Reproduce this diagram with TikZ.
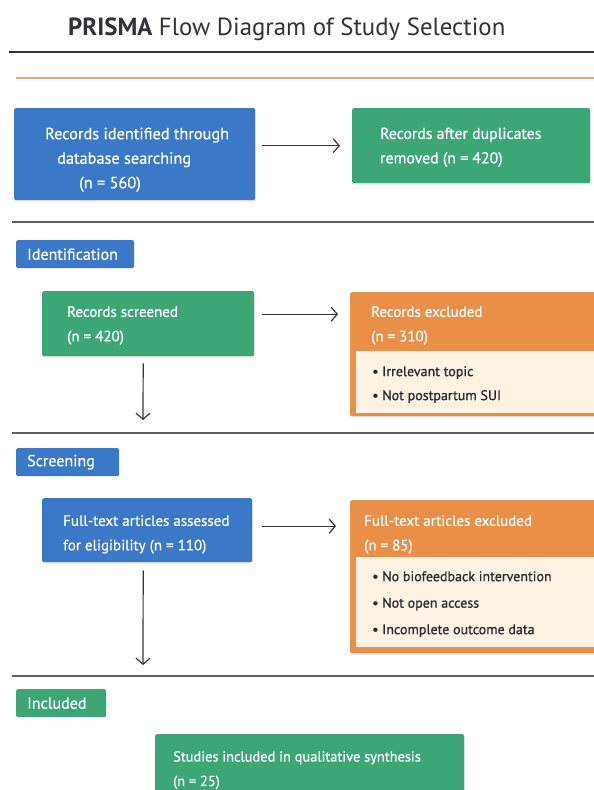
\documentclass[tikz,border=0pt]{standalone}
\usepackage{fontspec}
\setmainfont{PT Sans}
\newfontfamily\medfont{PT Sans}[FakeBold=0.6]
\usetikzlibrary{arrows.meta,shadows}
\definecolor{pblue}{HTML}{3B78C8}
\definecolor{pgreen}{HTML}{3DA676}
\definecolor{porange}{HTML}{E98F48}
\definecolor{pcream}{HTML}{FDF2E4}
\definecolor{pdark}{HTML}{2E323B}
\definecolor{pgray}{HTML}{5C5F66}
\definecolor{porline}{HTML}{EFA474}
\definecolor{parrow}{HTML}{33363D}
\definecolor{pbullet}{HTML}{26282C}
\begin{document}
\begin{tikzpicture}[x=1pt,y=-1pt,
  boxnode/.style={rectangle, rounded corners=1.5pt, inner sep=0pt, anchor=north west,
    drop shadow={opacity=0.15, shadow xshift=0.8pt, shadow yshift=-1.5pt}},
  innerbox/.style={rectangle, inner sep=0pt, anchor=north west, fill=pcream},
  boxtxt/.style={text=white, font=\medfont\fontsize{15}{24.5}\selectfont, inner sep=0pt, align=left, anchor=north west},
  bullettxt/.style={text=pbullet, font=\medfont\fontsize{14}{24}\selectfont, inner sep=0pt, align=left, anchor=north west},
  lab/.style={rectangle, rounded corners=1.5pt, anchor=north west, minimum height=28pt, inner xsep=11pt, inner ysep=0pt,
    text=white, font=\medfont\fontsize{16}{18}\selectfont, align=left},
  arr/.style={parrow, line width=1.2pt, -{Straight Barb[length=6pt,width=14pt]}},
  sepline/.style={pgray, line width=1.2pt}
]
\useasboundingbox (0,0) rectangle (594,790);
\fill[white] (0,0) rectangle (594,790);

% title and rules
\node[anchor=base west, text=pdark, font=\fontsize{24.8}{28}\selectfont, inner sep=0pt] (title) at (68,35)
  {\textbf{PRISMA} Flow Diagram of Study Selection};
\draw[pdark, line width=1.5pt] (9,52) -- (594,52);
\draw[porline, line width=1.3pt] (16,78) -- (594,78);

% row 1
\node[boxnode, fill=pblue, minimum width=241pt, minimum height=92pt] (b1) at (14,108) {};
\node[boxtxt, font=\medfont\fontsize{16.3}{24.5}\selectfont] (t1) at (45,127.5)
  {Records identified through\\\hspace*{12pt}database searching\\\hspace*{34pt}(n = 560)};
\node[boxnode, fill=pgreen, minimum width=238pt, minimum height=75pt] (b2) at (352,108) {};
\node[boxtxt, font=\medfont\fontsize{15.8}{24.5}\selectfont] (t2) at (380,127.5) {Records after duplicates\\removed (n = 420)};
\draw[arr] ([xshift=7pt]b1.east |- b2.west) -- ([xshift=-12pt]b2.west);

\draw[sepline] (12,222) -- (594,222);
\node[lab, fill=pblue, text width=96pt] (l1) at (16,240) {Identification};

% row 2
\node[boxnode, fill=pgreen, minimum width=212pt, minimum height=65pt] (rs) at (42,291) {};
\node[boxtxt] (rst) at (67,306) {Records screened\\(n = 420)};
\node[boxnode, fill=porange, minimum width=250pt, minimum height=124pt] (re) at (350,292) {};
\node[innerbox, minimum width=244pt, minimum height=62pt] (rei) at (356,351) {};
\node[boxtxt] (ret) at (371,306) {Records excluded\\(n = 310)};
\node[bullettxt] (reb) at (372,366) {\textbullet\ Irrelevant topic\\\textbullet\ Not postpartum SUI};
\draw[arr] ([xshift=8pt,yshift=9.5pt]rs.east) -- ([xshift=-12pt,yshift=9.5pt]rs.east -| re.west);
\coordinate (d1) at (143,420);
\draw[arr] ([xshift=-5pt,yshift=-7pt]rs.south) -- (d1);

\draw[sepline] (12,433) -- (594,433);
\node[lab, fill=pblue, text width=81pt] (l2) at (16,448) {Screening};

% row 3
\node[boxnode, fill=pblue, minimum width=210pt, minimum height=64pt] (ft) at (42,498) {};
\node[boxtxt] (ftt) at (63,515) {Full-text articles assessed\\for eligibility (n = 110)};
\node[boxnode, fill=porange, minimum width=250pt, minimum height=153pt] (fe) at (350,500) {};
\node[innerbox, minimum width=244pt, minimum height=90pt] (fei) at (356,557) {};
\node[boxtxt] (fet) at (364,515) {Full-text articles excluded\\(n = 85)};
\node[bullettxt, font=\medfont\fontsize{14}{26.5}\selectfont] (feb) at (372,571)
  {\textbullet\ No biofeedback intervention\\\textbullet\ Not open access\\\textbullet\ Incomplete outcome data};
\draw[arr] ([xshift=10pt,yshift=4pt]ft.east) -- ([xshift=-14pt,yshift=4pt]ft.east -| fe.west);
\coordinate (d2) at (143,665);
\draw[arr] ([xshift=-4pt,yshift=-8pt]ft.south) -- (d2);

\draw[sepline] (12,676) -- (594,676);
\node[lab, fill=pgreen, text width=68pt] (l3) at (16,689) {Included};

% row 4
\node[boxnode, fill=pgreen, minimum width=309pt, minimum height=70pt] (st) at (155,734) {};
\node[boxtxt, font=\medfont\fontsize{14.4}{24.5}\selectfont] (stt) at (173,751) {Studies included in qualitative synthesis\\(n = 25)};
\end{tikzpicture}
\end{document}
